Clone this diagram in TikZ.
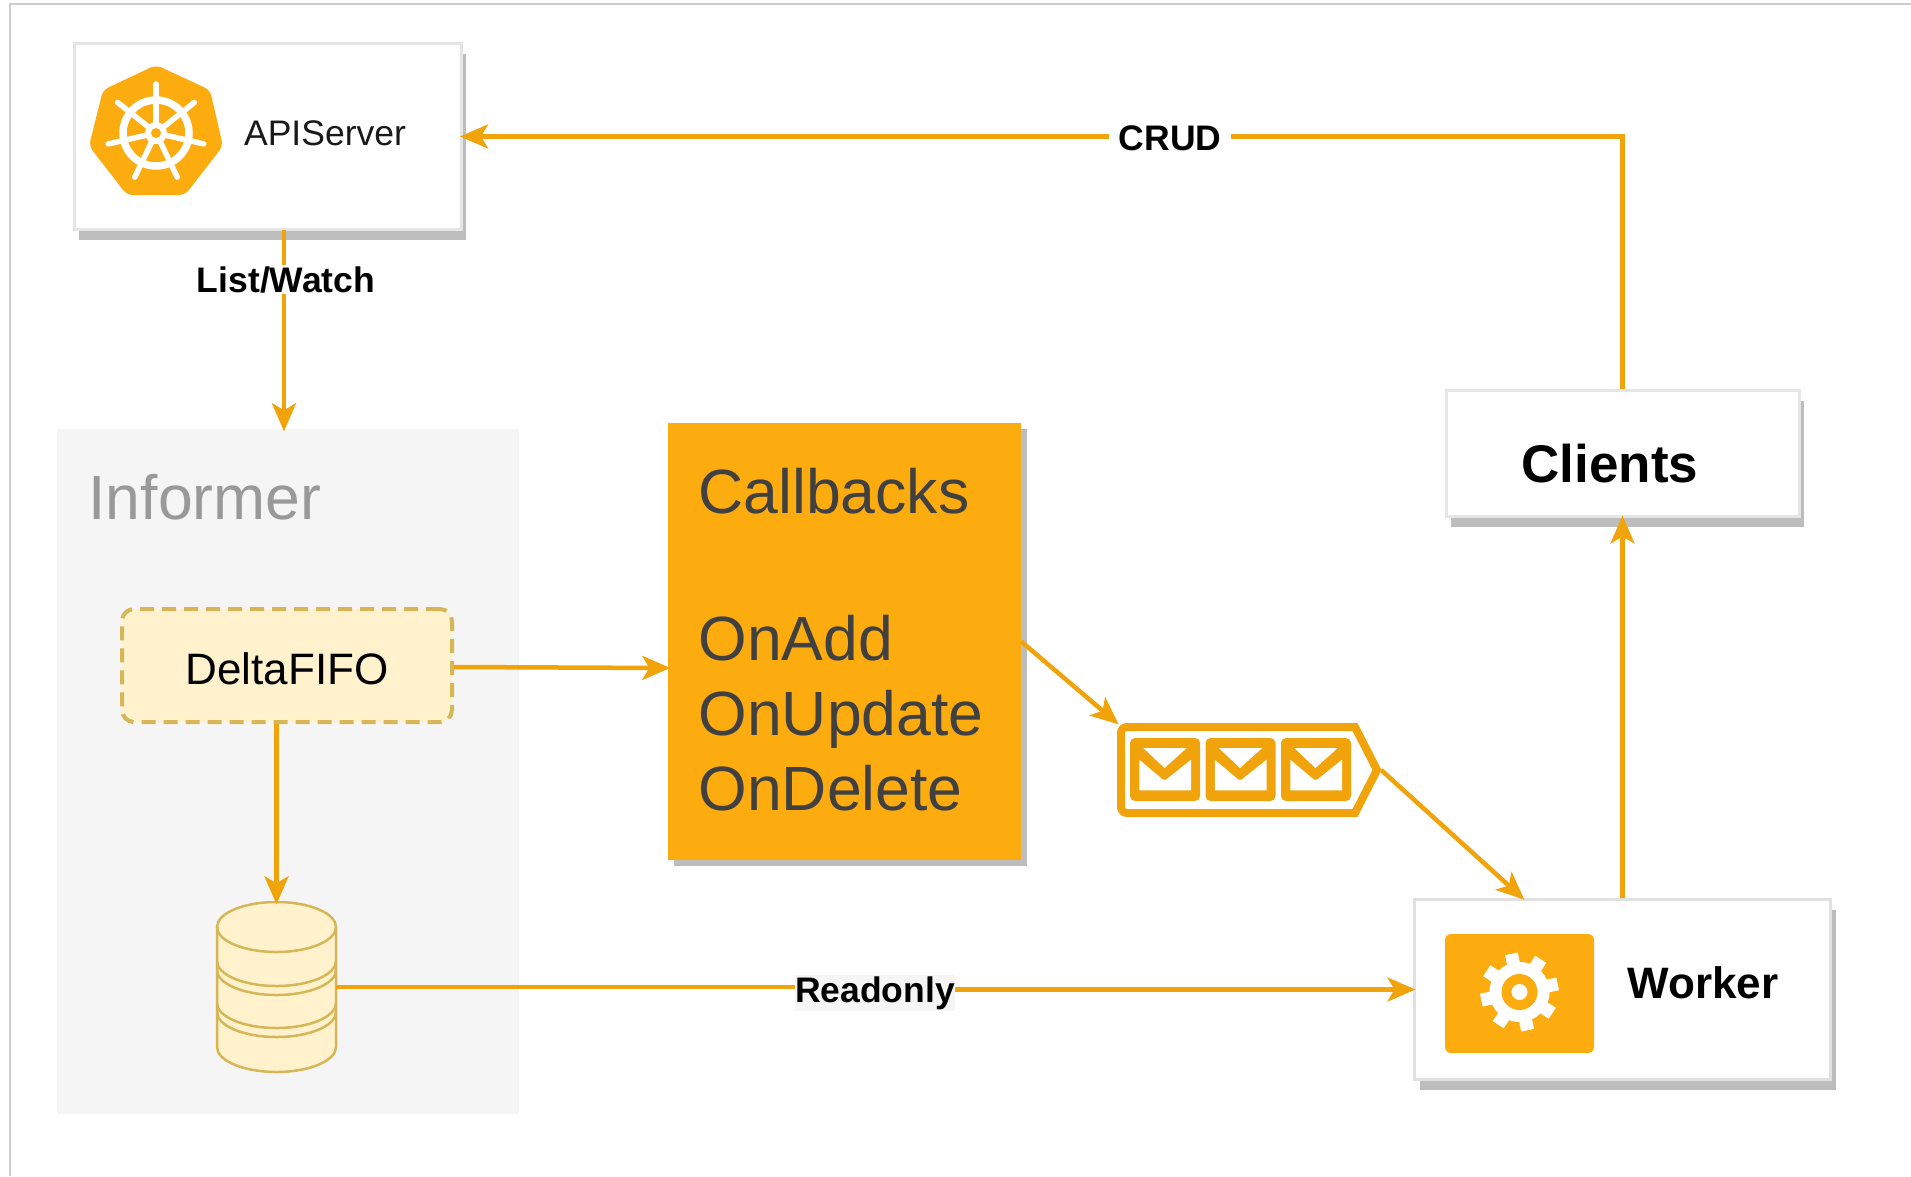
\documentclass[tikz,border=0pt]{standalone}
\usepackage{fontspec}
\setmainfont{Liberation Sans}
\usetikzlibrary{arrows.meta, positioning, shadows}
\definecolor{flowline}{HTML}{F0A30A}
\definecolor{amber}{HTML}{FDAC10}
\definecolor{paleyellow}{HTML}{FFF2CC}
\definecolor{darkyellow}{HTML}{D6B656}
\definecolor{panel}{HTML}{F5F5F5}
\definecolor{shadowgray}{HTML}{BDBDBD}

\begin{document}
\begin{tikzpicture}[
    x=1pt,
    y=-1pt,
    on grid,
    >={Stealth[length=28pt, width=24pt, inset=7pt]},
    flow/.style={draw=flowline, line width=4.5pt, shorten >=-2.5pt},
    flowlabel/.style={fill=white, inner xsep=10pt, inner ysep=1pt, text=black, font=\fontsize{35.5}{42}\selectfont\bfseries},
    whitebox/.style={draw=black!10, line width=3pt, fill=white, inner sep=0pt,
        drop shadow={shadow xshift=5pt, shadow yshift=-10pt, fill=shadowgray, opacity=1}}
]
   \useasboundingbox (0,0) rectangle (1911,1176);
   \draw[black!20, line width=1.5pt] (10,1176) -- (10,4) -- (1911,4);

   % Nodes
   \node[whitebox, minimum width=387pt, minimum height=186pt] (api) at (267.5,136.5) {};
   \node[fill=panel, minimum width=462pt, minimum height=685pt] (informer) [below right=635pt and 20.5pt of api] {};
   \node[draw=darkyellow, fill=paleyellow, dash pattern=on 14pt off 8pt, line width=4pt, rounded corners=12pt, minimum width=330pt, minimum height=113pt,
         text height=38pt, text depth=0pt, font=\fontsize{44}{53}\selectfont] (delta) [above left=106pt and 1pt of informer] {DeltaFIFO};
   \node[minimum width=119pt, minimum height=170pt, inner sep=0pt] (store) [below left=321.5pt and 10.5pt of delta] {};
   \node[fill=amber, minimum width=353pt, minimum height=437pt, inner xsep=30.5pt, text width=292pt, align=left, text=black!75,
         font=\fontsize{62.5}{75}\selectfont,
         drop shadow={shadow xshift=6pt, shadow yshift=-6pt, fill=shadowgray, opacity=1}] (callbacks)
         [above right=24pt and 557.5pt of delta] {Callbacks\\[72pt]OnAdd\\OnUpdate\\OnDelete\rule[-4pt]{0pt}{1pt}};
   \node[minimum width=264pt, minimum height=94pt, inner sep=0pt] (queue) [below right=128.5pt and 404.5pt of callbacks] {};
   \node[whitebox, draw=black!12, minimum width=416pt, minimum height=180pt] (worker) [below right=219.5pt and 373.5pt of queue] {};
   \node[whitebox, minimum width=353pt, minimum height=126pt] (clients) [above=536pt of worker] {};

   % Texts
   \node[font=\fontsize{62.5}{75}\selectfont, text=black!40, anchor=west] (informertext) at (85,497) {Informer};
   \node[font=\fontsize{35.5}{42}\selectfont, text=black!90] (apitext) at (325,133) {APIServer};
   \node[font=\fontsize{53}{62}\selectfont\bfseries] (clientstext) at (1610,464) {Clients};
   \node[font=\fontsize{44}{53}\selectfont\bfseries] (workertext) at (1703,983) {Worker};

   % Kubernetes wheel
   \coordinate (wheel) at (156,133);
   \fill[amber, rounded corners=6pt] (156,65) -- (210,90) -- (223,146) -- (185,195) -- (127,195) -- (89,146) -- (103,90) -- cycle;
   \draw[white, line width=7.5pt] (wheel) circle[radius=33pt];
   \foreach \a in {90, 38.57, -12.86, -64.29, -115.71, -167.14, 141.43}
      \draw[white, line width=5.5pt, line cap=round] (wheel) -- ++(\a:49pt);
   \fill[white] (wheel) circle[radius=11pt];
   \fill[amber] (wheel) circle[radius=5pt];

   % Gear
   \coordinate (gear) at (1519.5,992);
   \fill[amber, rounded corners=6pt] (1445,934) rectangle (1594,1053);
   \fill[white] (gear) circle[radius=30pt];
   \foreach \a in {12, 57, 102, 147, 192, 237, 282, 327}
      \draw[white, line width=13pt] (gear) -- ++(\a:39pt);
   \fill[amber] (gear) circle[radius=18pt];
   \fill[white] (gear) circle[radius=8pt];

   % Store
   \begin{scope}[draw=darkyellow, fill=paleyellow, line width=2.5pt]
      \filldraw (217,927) arc[start angle=180, end angle=0, x radius=59.5pt, y radius=25pt]
         -- (336,1047) arc[start angle=0, end angle=-180, x radius=59.5pt, y radius=25pt] -- cycle;
      \draw (217,927) arc[start angle=180, end angle=360, x radius=59.5pt, y radius=25pt];
      \foreach \y in {961, 970, 1003, 1012}
         \draw (217,\y) arc[start angle=180, end angle=360, x radius=59.5pt, y radius=25pt];
   \end{scope}

   % Queue
   \draw[flowline, line width=8pt, line join=miter] (1355,727) -- (1377,770) -- (1355,813)
      [rounded corners=6pt] -- (1121,813) -- (1121,727) [sharp corners] -- cycle;
   \foreach \m in {1130, 1205.5, 1281} {
      \begin{scope}[shift={(\m,738)}]
         \fill[flowline, rounded corners=5pt] (0,0) rectangle (70,63);
         \fill[white] (13.3,10) -- (56.7,10) -- (34.5,30) -- cycle;
         \fill[white] (9.3,21.7) -- (33,41.7) -- (36,41.7) -- (61,21.7) -- (61,52.3) -- (9.3,52.3) -- cycle;
      \end{scope}
   }

   % Connectors
   \coordinate (watchout) at (284,230);
   \draw[flow, ->] (clients.north) |- node[flowlabel, pos=.695, yshift=-2pt] (crud) {CRUD} (api.east);
   \draw[flow, ->] (watchout) -- node[flowlabel, pos=.25, xshift=2pt] (listwatch) {List/Watch} (watchout |- informer.north);
   \draw[flow, ->] ([yshift=-1.5pt]delta.east) -- ([yshift=-2.5pt]callbacks.west |- delta.east);
   \draw[flow, ->] (delta.south -| store.north) -- (store.north);
   \draw[flow, ->] (callbacks.east) -- (queue.north west);
   \draw[flow, ->] (queue.east) -- ([xshift=-100pt]worker.north);
   \draw[flow, ->] (worker.north -| clients.south) -- (clients.south);
   \node[flowlabel, fill=panel, inner xsep=0pt] (readonly) at (875,993) {Readonly};
   \draw[flow, shorten >=0pt] (store.east) -- (store.east -| readonly.west);
   \draw[flow, ->] (readonly.east |- worker.west) -- (worker.west);
\end{tikzpicture}
\end{document}
